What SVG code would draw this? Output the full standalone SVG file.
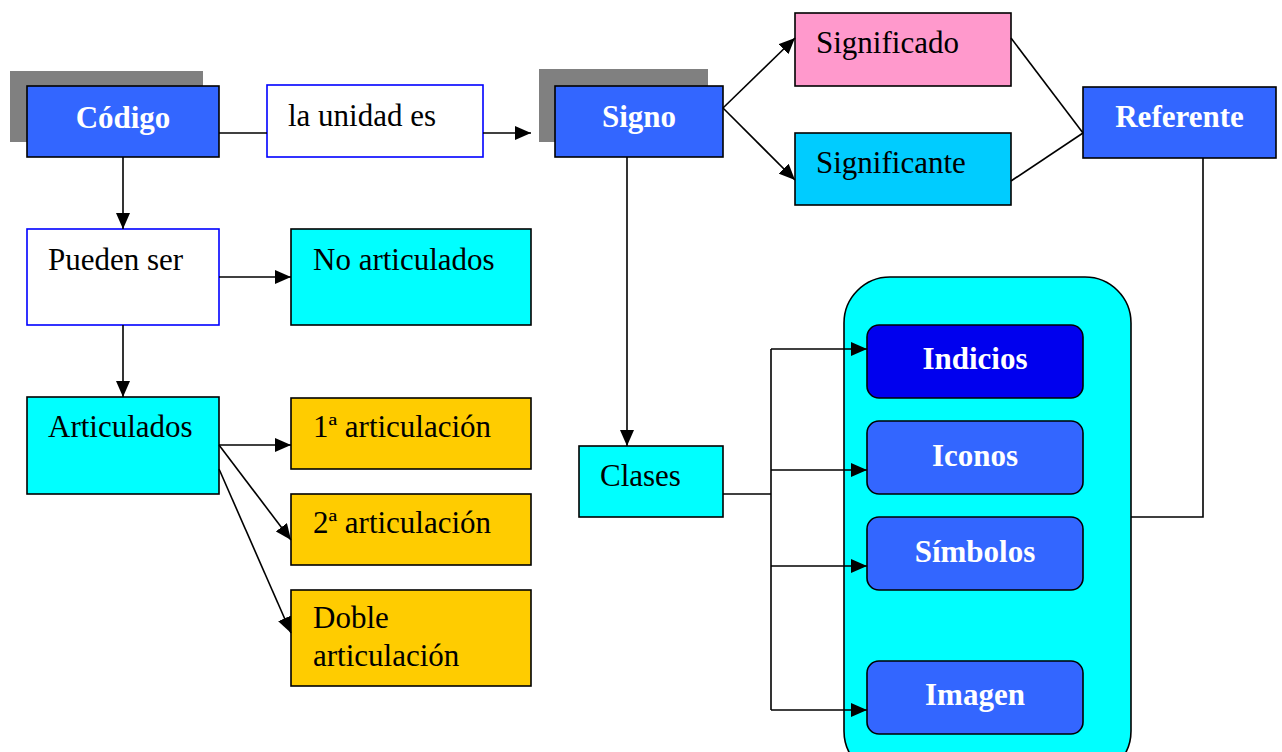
<svg xmlns="http://www.w3.org/2000/svg" width="1282" height="752" viewBox="0 0 1282 752">
<style>
text{font-family:"Liberation Serif","Times New Roman",serif;font-size:31px;fill:#000}
.b{font-weight:bold;fill:#fff;text-anchor:middle}
.box{stroke:#000;stroke-width:1.6}
.wbox{fill:#fff;stroke:#0000ff;stroke-width:1.6}
.blue{fill:#3366ff}
.shadow{fill:#808080}
.cn{fill:none;stroke:#000;stroke-width:1.6}
</style>
<defs>
<marker id="ah" markerUnits="userSpaceOnUse" markerWidth="16" markerHeight="14" refX="16" refY="7" orient="auto">
<path d="M0,0 L16,7 L0,14 z" fill="#000"/>
</marker>
</defs>
<rect width="1282" height="752" fill="#fff"/>

<g id="codigo">
<rect class="shadow" x="10" y="71" width="193" height="71"/>
<rect class="box blue" x="27" y="86" width="192" height="71"/>
<text class="b" x="123" y="128">Código</text>
</g>
<g id="la-unidad">
<rect class="wbox" x="267" y="85" width="216" height="72"/>
<text x="288" y="126">la unidad es</text>
</g>
<g id="signo">
<rect class="shadow" x="539" y="69" width="169" height="73"/>
<rect class="box blue" x="555" y="86" width="168" height="71"/>
<text class="b" x="639" y="127">Signo</text>
</g>
<g id="significado">
<rect class="box" fill="#ff99cc" x="795" y="13" width="216" height="73"/>
<text x="816" y="53">Significado</text>
</g>
<g id="significante">
<rect class="box" fill="#00ccff" x="795" y="133" width="216" height="72"/>
<text x="816" y="173">Significante</text>
</g>
<g id="referente">
<rect class="box blue" x="1083" y="87" width="193" height="71"/>
<text class="b" x="1179.5" y="127">Referente</text>
</g>
<g id="pueden-ser">
<rect class="wbox" x="27" y="229" width="192" height="96"/>
<text x="48" y="270">Pueden ser</text>
</g>
<g id="no-articulados">
<rect class="box" fill="#00ffff" x="291" y="229" width="240" height="96"/>
<text x="313" y="270">No articulados</text>
</g>
<g id="articulados">
<rect class="box" fill="#00ffff" x="27" y="397" width="192" height="97"/>
<text x="48" y="437">Articulados</text>
</g>
<g id="art1">
<rect class="box" fill="#ffcc00" x="291" y="398" width="240" height="71"/>
<text x="313" y="437">1ª articulación</text>
</g>
<g id="art2">
<rect class="box" fill="#ffcc00" x="291" y="494" width="240" height="71"/>
<text x="313" y="533">2ª articulación</text>
</g>
<g id="doble">
<rect class="box" fill="#ffcc00" x="291" y="590" width="240" height="96"/>
<text x="313" y="628">Doble</text>
<text x="313" y="666">articulación</text>
</g>
<g id="clases">
<rect class="box" fill="#00ffff" x="579" y="446" width="144" height="71"/>
<text x="600" y="486">Clases</text>
</g>
<g id="clases-grupo">
<rect class="box" fill="#00ffff" x="844" y="277" width="287" height="500" rx="46" ry="46"/>
</g>
<g id="indicios">
<rect class="box" fill="#0000ee" x="867" y="325" width="216" height="73" rx="12" ry="12"/>
<text class="b" x="975" y="369">Indicios</text>
</g>
<g id="iconos">
<rect class="box blue" x="867" y="421" width="216" height="73" rx="12" ry="12"/>
<text class="b" x="975" y="466">Iconos</text>
</g>
<g id="simbolos">
<rect class="box blue" x="867" y="517" width="216" height="73" rx="12" ry="12"/>
<text class="b" x="975" y="562">Símbolos</text>
</g>
<g id="imagen">
<rect class="box blue" x="867" y="661" width="216" height="73" rx="12" ry="12"/>
<text class="b" x="975" y="705">Imagen</text>
</g>

<g id="connectors">
<line class="cn" x1="219" y1="133" x2="267" y2="133"/>
<line class="cn" x1="483" y1="133" x2="531" y2="133" marker-end="url(#ah)"/>
<line class="cn" x1="723" y1="108" x2="795" y2="38" marker-end="url(#ah)"/>
<line class="cn" x1="723" y1="108" x2="795" y2="180" marker-end="url(#ah)"/>
<line class="cn" x1="1011" y1="38" x2="1083" y2="133"/>
<line class="cn" x1="1011" y1="181" x2="1083" y2="133"/>
<line class="cn" x1="123" y1="157" x2="123" y2="229" marker-end="url(#ah)"/>
<line class="cn" x1="219" y1="277" x2="291" y2="277" marker-end="url(#ah)"/>
<line class="cn" x1="123" y1="325" x2="123" y2="397" marker-end="url(#ah)"/>
<line class="cn" x1="219" y1="445" x2="291" y2="445" marker-end="url(#ah)"/>
<line class="cn" x1="219" y1="445" x2="291" y2="540" marker-end="url(#ah)"/>
<line class="cn" x1="219" y1="469" x2="291" y2="633" marker-end="url(#ah)"/>
<line class="cn" x1="627" y1="157" x2="627" y2="446" marker-end="url(#ah)"/>
<polyline class="cn" points="723,494 771,494"/>
<line class="cn" x1="771" y1="349" x2="771" y2="710"/>
<line class="cn" x1="771" y1="349" x2="867" y2="349" marker-end="url(#ah)"/>
<line class="cn" x1="771" y1="470" x2="867" y2="470" marker-end="url(#ah)"/>
<line class="cn" x1="771" y1="566" x2="867" y2="566" marker-end="url(#ah)"/>
<line class="cn" x1="771" y1="710" x2="867" y2="710" marker-end="url(#ah)"/>
<polyline class="cn" points="1203,158 1203,517 1131,517"/>
</g>
</svg>
